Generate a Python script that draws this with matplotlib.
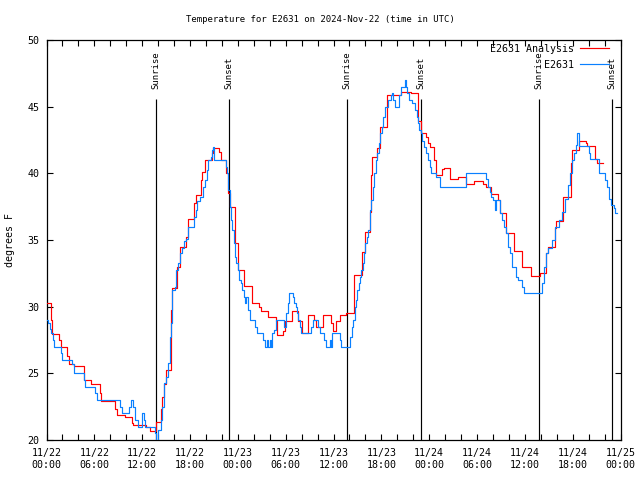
import matplotlib
matplotlib.use('Agg')
import matplotlib.pyplot as plt
from matplotlib.ticker import MultipleLocator

plt.rcParams['font.family'] = ['DejaVu Sans Mono']
FS = 7.2
FS_SMALL = 6.5

title = "Temperature for E2631 on 2024-Nov-22 (time in UTC)"
y_label = "degrees F"
tick_hours = [0, 6, 12, 18, 24, 30, 36, 42, 48, 54, 60, 66, 72]
tick_labels = ["11/22\n00:00", "11/22\n06:00", "11/22\n12:00", "11/22\n18:00",
               "11/23\n00:00", "11/23\n06:00", "11/23\n12:00", "11/23\n18:00",
               "11/24\n00:00", "11/24\n06:00", "11/24\n12:00", "11/24\n18:00",
               "11/25\n00:00"]

# hours since 11/22 00:00 UTC
sun_hours = [13.68, 22.88, 37.64, 47.0, 61.77, 70.93]
sun_labels = ["Sunrise", "Sunset", "Sunrise", "Sunset", "Sunrise", "Sunset"]

red_hours = [
    0.0, 0.59, 0.75, 1.59, 1.76, 2.59, 2.76, 3.51, 4.69, 5.6,
    6.65, 6.86, 8.53, 8.87, 9.79, 10.71, 10.83, 12.5, 12.92, 13.76,
    14.34, 14.51, 14.76, 14.93, 15.6, 15.77, 16.35, 16.69, 17.52, 17.69,
    17.77, 18.53, 18.69, 19.36, 19.53, 19.86, 20.78, 20.87, 21.62, 21.87,
    22.54, 22.71, 23.04, 23.63, 23.96, 24.05, 24.76, 25.72, 25.82, 26.64,
    26.85, 27.77, 28.73, 28.94, 29.65, 29.9, 30.82, 31.58, 32.0, 32.83,
    33.58, 33.84, 34.67, 35.68, 35.93, 36.26, 36.76, 37.6, 38.56, 39.57,
    39.9, 40.57, 40.74, 40.82, 41.49, 41.83, 42.66, 42.75, 44.42, 45.67,
    46.59, 46.93, 47.64, 47.9, 48.06, 48.64, 48.89, 49.65, 49.81, 50.65,
    51.65, 52.66, 53.58, 54.75, 55.08, 55.75, 56.59, 56.84, 57.68, 58.68,
    59.68, 60.77, 61.86, 62.65, 62.9, 63.74, 63.91, 64.83, 65.83, 65.92,
    66.75, 67.67, 67.84, 68.76, 69.1, 69.76]
red_temps = [
    30.25, 29.0, 27.95, 27.5, 26.95, 26.3, 25.7, 25.55, 24.5, 24.2,
    23.5, 22.9, 22.3, 21.85, 21.7, 21.3, 21.1, 20.95, 20.65, 21.35,
    22.3, 23.25, 24.2, 25.25, 29.75, 31.4, 33.0, 34.45, 35.2, 36.2,
    36.6, 37.8, 38.4, 39.5, 40.1, 41.0, 41.5, 41.9, 41.6, 41.0,
    40.0, 38.5, 37.5, 34.75, 33.0, 32.75, 31.55, 31.25, 30.3, 30.0,
    29.7, 29.25, 28.9, 27.9, 28.15, 28.9, 29.7, 28.9, 28.0, 29.4,
    29.0, 28.45, 29.4, 28.8, 28.2, 28.9, 29.4, 29.5, 32.4, 34.1,
    35.6, 37.1, 39.9, 41.25, 41.9, 43.5, 44.8, 45.9, 46.1, 46.0,
    43.9, 43.05, 42.75, 42.25, 41.95, 41.0, 39.9, 40.3, 40.4, 39.6,
    39.7, 39.2, 39.45, 39.2, 39.0, 38.45, 38.0, 37.0, 35.5, 34.2,
    33.0, 32.3, 32.5, 34.0, 34.45, 35.9, 36.4, 38.25, 40.75, 41.75,
    42.4, 42.25, 42.05, 41.1, 40.8, 40.8]

blue_hours = [
    0.0, 0.25, 0.42, 0.59, 0.84, 1.0, 1.84, 2.0, 3.26, 3.51,
    4.69, 4.77, 6.11, 6.36, 9.28, 9.53, 10.29, 10.54, 10.79, 11.04,
    11.54, 11.96, 12.21, 12.38, 13.55, 13.72, 14.01, 14.34, 14.51, 14.76,
    15.01, 15.18, 15.43, 15.6, 15.77, 16.1, 16.27, 16.52, 16.69, 16.94,
    17.19, 17.44, 17.69, 18.53, 18.78, 18.94, 19.2, 19.61, 19.86, 20.12,
    20.28, 20.62, 20.78, 20.87, 20.95, 21.04, 22.46, 22.63, 22.79, 22.96,
    23.13, 23.29, 23.46, 23.63, 23.8, 23.96, 24.13, 24.38, 24.55, 24.72,
    24.89, 25.05, 25.22, 25.55, 26.14, 26.39, 27.14, 27.4, 27.65, 27.81,
    27.98, 28.15, 28.32, 28.57, 28.73, 29.82, 29.99, 30.24, 30.41, 30.91,
    31.08, 31.24, 31.41, 31.58, 31.74, 31.91, 33.17, 33.42, 34.0, 34.25,
    34.84, 35.09, 35.51, 35.68, 35.84, 36.76, 36.93, 38.06, 38.31, 38.48,
    38.65, 38.81, 38.98, 39.15, 39.32, 39.48, 39.65, 39.82, 39.98, 40.15,
    40.32, 40.57, 40.74, 40.9, 41.07, 41.32, 41.49, 41.66, 41.83, 42.08,
    42.24, 42.49, 42.83, 43.16, 43.33, 43.5, 43.75, 44.25, 44.5, 44.92,
    45.09, 45.25, 45.5, 45.84, 46.17, 46.43, 46.59, 46.76, 46.93, 47.05,
    47.39, 47.64, 47.81, 48.06, 48.22, 48.89, 49.31, 52.66, 55.17, 55.33,
    55.58, 55.75, 56.0, 56.25, 56.42, 56.84, 57.17, 57.42, 57.59, 57.84,
    58.09, 58.35, 58.93, 59.1, 59.68, 59.93, 62.15, 62.4, 62.65, 62.9,
    63.41, 63.74, 64.24, 64.66, 65.08, 65.41, 65.66, 65.92, 66.17, 66.42,
    66.59, 66.75, 68.01, 68.17, 69.35, 70.01, 70.27, 70.52, 70.85, 71.19,
    71.35, 71.52]
blue_temps = [
    29.0, 28.75, 28.3, 28.0, 27.5, 27.0, 26.5, 26.0, 25.7, 25.0,
    24.5, 24.0, 23.5, 23.0, 22.5, 22.0, 22.5, 23.0, 22.5, 21.5,
    21.0, 22.0, 21.5, 21.0, 20.5, 19.5, 20.75, 21.5, 22.5, 24.25,
    24.75, 25.75, 27.75, 28.75, 31.25, 31.5, 32.75, 33.25, 34.0, 34.4,
    34.9, 35.1, 36.0, 36.75, 37.25, 37.9, 38.25, 39.0, 39.5, 40.25,
    41.0, 41.25, 41.75, 42.0, 41.25, 41.0, 40.5, 40.0, 38.75, 37.5,
    36.5, 35.75, 34.75, 33.75, 33.25, 32.75, 32.0, 31.75, 31.25, 30.75,
    30.25, 30.75, 29.75, 29.0, 28.5, 28.0, 27.5, 27.0, 27.5, 27.0,
    27.5, 27.0, 28.0, 28.25, 29.0, 28.5, 29.5, 30.25, 31.0, 30.75,
    30.25, 30.0, 29.5, 29.0, 28.5, 28.0, 28.5, 29.0, 28.5, 28.0,
    27.5, 27.0, 27.5, 27.0, 28.0, 27.5, 27.0, 27.75, 28.5, 29.0,
    30.0, 30.5, 31.25, 31.75, 32.25, 32.75, 33.25, 34.0, 34.75, 35.25,
    35.75, 37.25, 38.0, 39.0, 40.0, 41.0, 41.5, 42.25, 43.0, 43.5,
    44.25, 45.0, 45.5, 45.9, 46.0, 45.5, 45.0, 45.9, 46.5, 47.0,
    46.5, 46.0, 45.5, 45.25, 44.75, 44.25, 43.75, 43.25, 43.0, 42.4,
    42.0, 41.5, 41.0, 40.5, 40.0, 39.75, 39.0, 40.0, 39.6, 39.0,
    38.6, 38.25, 38.0, 37.25, 38.0, 37.0, 36.5, 36.0, 35.5, 34.5,
    34.0, 33.0, 32.25, 32.0, 31.5, 31.0, 31.75, 33.0, 34.0, 34.4,
    35.0, 36.0, 36.5, 37.1, 38.1, 39.1, 40.0, 41.0, 41.5, 42.1,
    43.0, 42.05, 41.5, 41.05, 40.0, 39.5, 39.0, 38.05, 37.6, 37.4,
    37.0, 37.0]

assert len(red_hours) == len(red_temps)
assert len(blue_hours) == len(blue_temps)

fig = plt.figure(figsize=(6.4, 4.8), dpi=100)
ax = fig.add_axes([46.5 / 640, 40 / 480, 574 / 640, 400 / 480])

ax.step(red_hours, red_temps, where='post', color='#ff0000', lw=0.85,
        label='E2631 Analysis', zorder=3)
ax.step(blue_hours, blue_temps, where='post', color='#0a80ff', lw=0.85,
        label='E2631', zorder=4)

ax.vlines(sun_hours, 20, 45.6, color='black', lw=0.85, zorder=2)
for h, lab in zip(sun_hours, sun_labels):
    ax.text(h, 46.3, lab, rotation=90, ha='center', va='bottom', fontsize=FS_SMALL)

ax.set_xlim(0, 72)
ax.set_ylim(20, 50)
ax.set_xticks(tick_hours)
ax.set_xticklabels(tick_labels, fontsize=FS, linespacing=1.25)
ax.xaxis.set_minor_locator(MultipleLocator(2))
ax.yaxis.set_major_locator(MultipleLocator(5))
ax.tick_params(axis='both', which='both', direction='in', top=True, right=True,
               length=4.5, width=0.8, labelsize=FS)
ax.tick_params(axis='x', which='major', pad=6)
ax.tick_params(axis='y', which='major', pad=5)
for s in ax.spines.values():
    s.set_linewidth(0.9)

fig.text(0.5, 1 - 20 / 480, title, ha='center', va='center', fontsize=FS_SMALL)
fig.text(10 / 640, 0.5, y_label, rotation=90, ha='center', va='center', fontsize=FS)

ax.legend(loc='upper right', bbox_to_anchor=(0.9805, 0.99), frameon=False,
          markerfirst=False, handlelength=2.9, handletextpad=0.6,
          labelspacing=0.6, borderpad=0, borderaxespad=0, fontsize=FS)

fig.savefig('out.png', dpi=100)
